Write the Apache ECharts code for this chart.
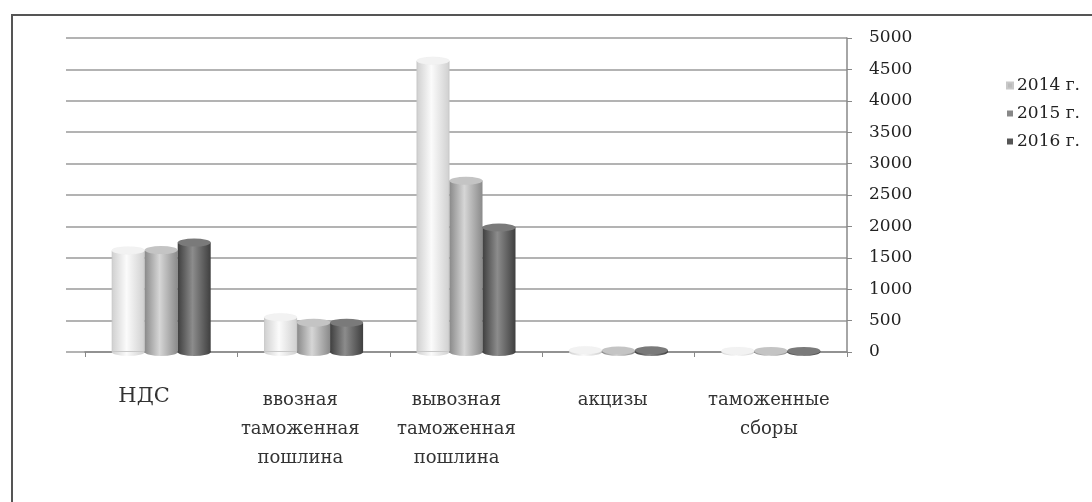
<!DOCTYPE html>
<html>
<head>
<meta charset="utf-8">
<script src="https://cdn.jsdelivr.net/npm/echarts@6/dist/echarts.min.js"></script>
<style>
html,body{margin:0;padding:0;background:#fff;}
#chart{width:1092px;height:502px;}
</style>
</head>
<body>
<div id="chart"></div>
<script>
// ---- data ----
const categories = ['НДС', 'ввозная\nтаможенная\nпошлина', 'вывозная\nтаможенная\nпошлина', 'акцизы', 'таможенные\nсборы'];
const seriesNames = ['2014 г.', '2015 г.', '2016 г.'];
const values2014 = [1620, 555, 4640, 30, 20];
const values2015 = [1625, 470, 2730, 25, 20];
const values2016 = [1745, 470, 1985, 30, 20];
const yTicks = { min: 0, max: 5000, interval: 500 };

// ---- styles ----
const FONT = '"DejaVu Serif", "Liberation Serif", serif';
const barW = 33;
function grad(edge, mid) {
  return new echarts.graphic.LinearGradient(0, 0, 1, 0, [
    { offset: 0, color: edge }, { offset: 0.45, color: mid }, { offset: 1, color: edge }
  ]);
}
const bodyColors = [grad('#cfcfcf', '#fbfbfb'), grad('#8a8a8a', '#d6d6d6'), grad('#3f3f3f', '#8c8c8c')];
const capColors = ['#f2f2f2', '#c4c4c4', '#7a7a7a'];
const bottomColors = [grad('#cfcfcf', '#fbfbfb'), grad('#8a8a8a', '#d6d6d6'), grad('#3f3f3f', '#8c8c8c')];
const legendColors = ['#bbbbbb', '#888888', '#555555'];
const allValues = [values2014, values2015, values2016];

const chart = echarts.init(document.getElementById('chart'));

const series = [];
allValues.forEach((vals, i) => {
  series.push({
    name: seriesNames[i], type: 'bar', xAxisIndex: 1, yAxisIndex: 1,
    data: vals, barWidth: barW, barGap: '0%',
    itemStyle: { color: bodyColors[i], borderColor: i === 0 ? '#c8c8c8' : 'transparent', borderWidth: i === 0 ? 1 : 0 },
    z: 3
  });
});
allValues.forEach((vals, i) => {
  series.push({
    name: seriesNames[i], type: 'pictorialBar', xAxisIndex: 1, yAxisIndex: 1,
    data: vals, barWidth: barW, barGap: '0%',
    symbol: 'circle', symbolSize: [barW, 8], symbolPosition: 'end', symbolOffset: [0, '-50%'],
    itemStyle: { color: capColors[i], borderColor: '#a0a0a0', borderWidth: 0.6 },
    z: 4, legendHoverLink: false
  });
});
allValues.forEach((vals, i) => {
  series.push({
    name: seriesNames[i], type: 'pictorialBar', xAxisIndex: 2, yAxisIndex: 1,
    data: vals, barWidth: barW, barGap: '0%',
    symbol: 'circle', symbolSize: [barW, 8], symbolPosition: 'start', symbolOffset: [0, '50%'],
    itemStyle: { color: bottomColors[i] },
    z: 2, legendHoverLink: false
  });
});

chart.setOption({
  backgroundColor: '#ffffff',
  animation: false,
  graphic: [{
    type: 'rect', shape: { x: 12, y: 15, width: 1200, height: 600 },
    style: { fill: 'none', stroke: '#555', lineWidth: 2 }, silent: true, z: 0
  }],
  legend: {
    orient: 'vertical', left: 1001, top: 72, itemGap: 11,
    itemWidth: 6, itemHeight: 6, icon: 'rect',
    data: seriesNames.map((n, i) => ({ name: n, itemStyle: { color: legendColors[i] } })),
    textStyle: { fontFamily: FONT, fontSize: 17, color: '#222', padding: [0, 0, 0, -1] }
  },
  grid: [
    { left: 66, right: 245, top: 38, bottom: 150 },   // back wall: gridlines, value labels, category labels
    { left: 85, right: 245, top: 38, bottom: 150 }    // bars
  ],
  xAxis: [
    { gridIndex: 0, type: 'category',
      data: categories.map((c, i) => i === 0 ? { value: c, textStyle: { fontSize: 21, lineHeight: 22 } } : c),
      axisLine: { show: false }, axisTick: { show: false },
      axisLabel: { interval: 0, margin: 34, fontFamily: FONT, fontSize: 18, lineHeight: 29, color: '#333', verticalAlign: 'top' } },
    { gridIndex: 1, type: 'category', data: categories,
      axisLine: { show: true, lineStyle: { color: '#888', width: 1.5 } },
      axisTick: { show: true, length: 5, lineStyle: { color: '#888' } },
      axisLabel: { show: false } },
    { gridIndex: 1, type: 'category', data: categories, show: false }
  ],
  yAxis: [
    { gridIndex: 0, type: 'value', position: 'right', min: yTicks.min, max: yTicks.max, interval: yTicks.interval,
      axisLine: { show: true, lineStyle: { color: '#888', width: 1.5 } },
      axisTick: { show: true, inside: false, length: 5, lineStyle: { color: '#888' } },
      axisLabel: { margin: 22, fontFamily: FONT, fontSize: 17, color: '#222', formatter: v => String(v) },
      splitLine: { show: true, lineStyle: { color: '#9a9a9a', width: 1.5 } } },
    { gridIndex: 1, type: 'value', min: yTicks.min, max: yTicks.max, interval: yTicks.interval, show: false }
  ],
  series: series
});
</script>
</body>
</html>
